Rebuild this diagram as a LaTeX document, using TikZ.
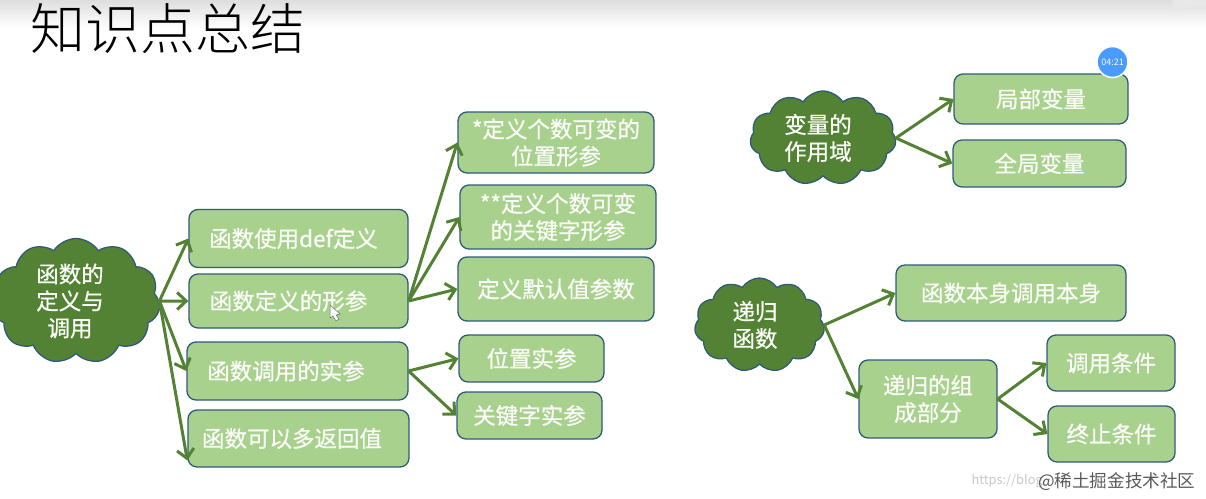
\documentclass[tikz,border=0pt]{standalone}
\usepackage{fontspec}
\setmainfont{Noto Sans CJK SC}
\newfontfamily\boxfont[FakeBold=0.6]{Noto Sans CJK SC}
\newfontfamily\titlefont{Noto Sans CJK SC Light}
\usetikzlibrary{arrows.meta, shapes.symbols}
\definecolor{boxgreen}{HTML}{A9D18E}
\definecolor{cloudgreen}{HTML}{548235}
\definecolor{edgeblue}{HTML}{2F5B78}
\definecolor{badgeblue}{HTML}{4A9BFF}
\tikzset{
    ->,
    >={Straight Barb[length=9pt,width=17pt,line width=3pt]},
    every node/.style={font=\boxfont\fontsize{22.5}{27}\selectfont, text=white!95!boxgreen, align=center},
    topic/.style={draw=edgeblue, line width=1.3pt, fill=boxgreen, rounded corners=9pt, inner sep=0pt},
    blob/.style={cloud, cloud puffs=11, cloud puff arc=115, draw=edgeblue, line width=1.3pt, fill=cloudgreen, inner sep=0pt},
    link/.style={draw=cloudgreen, line width=3pt},
}
\begin{document}
\begin{tikzpicture}
    \useasboundingbox (0,0) rectangle (1206pt,-498pt);
    \shade[draw=none, top color=black!13, bottom color=white] (0,0) rectangle (1206pt,-28pt);
    \fill[black!9] (1172pt,0pt) -- (1175pt,-12pt) -- (1190pt,-6pt) -- (1206pt,-6pt) -- (1206pt,0pt) -- cycle;

    \node[text=black, font=\titlefont\fontsize{55}{60}\selectfont, anchor=west] at (27pt,-29pt) (TITLE) {知识点总结};

    % function cloud and its branches
    \node[blob, aspect=1.43, minimum width=168pt, minimum height=98pt] at (76pt,-301pt) (FUNC) {\hspace*{-12pt}函数的\\\hspace*{-12pt}定义与\\\hspace*{-12pt}调用};
    \node[topic, minimum width=219pt, minimum height=58pt] at ([xshift=222.5pt,yshift=62.5pt]FUNC) (DEF) {\hspace*{-10pt}函数使用def定义};
    \node[topic, minimum width=219pt, minimum height=54pt] at ([yshift=-62.5pt]DEF) (PARAM) {\hspace*{-20pt}函数定义的形参};
    \node[topic, minimum width=221pt, minimum height=58pt] at ([xshift=-1pt,yshift=-70pt]PARAM) (ARGS) {\hspace*{-23pt}函数调用的实参};
    \node[topic, minimum width=221pt, minimum height=57pt] at ([xshift=1pt,yshift=-67.5pt]ARGS) (RET) {\hspace*{-13pt}函数可以多返回值};

    \node[topic, minimum width=196pt, minimum height=61pt] at ([xshift=257.5pt,yshift=158.5pt]PARAM) (VARPOS) {*定义个数可变的\\位置形参};
    \node[topic, minimum width=196pt, minimum height=64pt] at ([xshift=2pt,yshift=-74.5pt]VARPOS) (VARKW) {**定义个数可变\\的关键字形参};
    \node[topic, minimum width=196pt, minimum height=64pt] at ([xshift=-2pt,yshift=-72pt]VARKW) (DEFAULT) {定义默认值参数};

    \node[topic, minimum width=145pt, minimum height=47pt] at ([xshift=234pt,yshift=12.5pt]ARGS) (POSARG) {位置实参};
    \node[topic, minimum width=145pt, minimum height=47pt] at ([xshift=-2pt,yshift=-57pt]POSARG) (KWARG) {关键字实参};

    \draw[link] (FUNC.east) -- (DEF.west);
    \draw[link] (FUNC.east) -- (PARAM.west);
    \draw[link] (FUNC.east) -- (ARGS.west);
    \draw[link] (FUNC.east) -- ([yshift=-22pt]RET.west);
    \draw[link] (PARAM.east) -- (VARPOS.west);
    \draw[link] (PARAM.east) -- (VARKW.west);
    \draw[link] (PARAM.east) -- (DEFAULT.west);
    \draw[link] (ARGS.east) -- (POSARG.west);
    \draw[link] (ARGS.east) -- (KWARG.west);

    % scope cloud
    \node[blob, aspect=1.52, minimum width=146pt, minimum height=94pt] at (823pt,-138pt) (SCOPE) {\hspace*{-10pt}变量的\\\hspace*{-10pt}作用域};
    \node[topic, minimum width=174pt, minimum height=50pt] at ([xshift=218pt,yshift=39pt]SCOPE) (LOCAL) {局部变量};
    \node[topic, minimum width=173pt, minimum height=47pt] at ([xshift=-1.5pt,yshift=-64.5pt]LOCAL) (GLOBAL) {全局变量};

    \draw[link] (SCOPE.east) -- (LOCAL.west);
    \draw[link] (SCOPE.east) -- (GLOBAL.west);

    % recursion cloud
    \node[blob, aspect=1.35, minimum width=130pt, minimum height=94pt] at (759.5pt,-325pt) (RECUR) {\hspace*{-9pt}递归\\\hspace*{-9pt}函数};
    \node[topic, minimum width=230pt, minimum height=56pt] at ([xshift=251.5pt,yshift=32pt]RECUR) (SELF) {函数本身调用本身};
    \node[topic, minimum width=138pt, minimum height=78pt] at ([xshift=168.5pt,yshift=-74pt]RECUR) (PARTS) {递归的组\\成部分};
    \node[topic, minimum width=128pt, minimum height=56pt] at ([xshift=183pt,yshift=36pt]PARTS) (COND) {调用条件};
    \node[topic, minimum width=127pt, minimum height=56pt] at ([xshift=183.5pt,yshift=-35pt]PARTS) (STOP) {终止条件};

    \draw[link] (RECUR.east) -- (SELF.west);
    \draw[link] (RECUR.east) -- (PARTS.west);
    \draw[link] (PARTS.east) -- (COND.west);
    \draw[link] (PARTS.east) -- (STOP.west);

    % player marks on top of the slide
    \node[circle, draw=white, line width=1.5pt, fill=badgeblue, minimum size=31pt, inner sep=0pt, font=\fontsize{9}{10}\selectfont] at (1112.5pt,-62pt) (TIME) {04:21};
    \node[text=black!22, font=\fontsize{12.8}{16}\selectfont, anchor=west] at (968pt,-481pt) (URL) {https://blog};
    \node[text=black!65, font=\fontsize{17.6}{18}\selectfont, anchor=east] at (1199pt,-482pt) (MARK) {@稀土掘金技术社区};
    \fill[draw=black!60, line width=0.5pt, fill=white] (330pt,-305pt) -- (330pt,-318pt) -- (333pt,-316pt) -- (336pt,-321pt) -- (339pt,-319pt) -- (336pt,-315pt) -- (340pt,-314pt) -- cycle;
\end{tikzpicture}
\end{document}
